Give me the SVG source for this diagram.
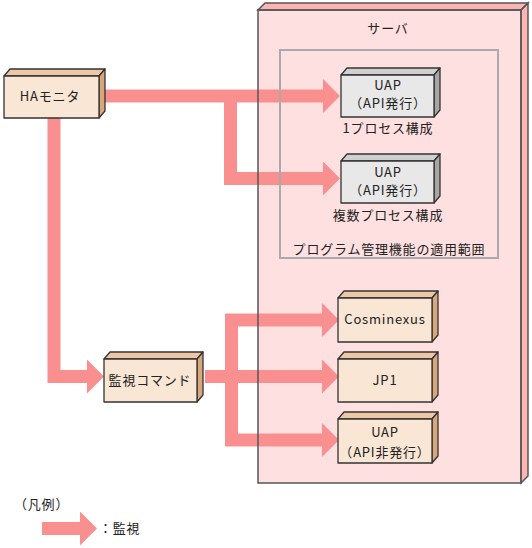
<svg xmlns="http://www.w3.org/2000/svg" width="532" height="548" viewBox="0 0 532 548">
<style>
text{font-family:"Noto Sans CJK JP","Liberation Sans",sans-serif;font-size:13px;fill:#222;text-anchor:middle;letter-spacing:0.8px}
.tan .f{fill:#F9E6D5}.tan .t{fill:#EEC8A6}.tan .s{fill:#D8A77B}
.gry .f{fill:#E8E8E8}.gry .t{fill:#D0D0D0}.gry .s{fill:#A6A6A6}
.box rect,.box polygon{stroke:#333;stroke-width:1.3;stroke-linejoin:round}
.conn path{fill:none;stroke:#F98F8F;stroke-width:13;stroke-linejoin:miter;marker-end:url(#ah)}
</style>
<defs>
<marker id="ah" viewBox="0 0 17 34" refX="0" refY="17" markerWidth="17" markerHeight="34" markerUnits="userSpaceOnUse" orient="auto">
<polygon points="0,0 17,17 0,34" fill="#F98F8F"/>
</marker>
</defs>
<rect width="532" height="548" fill="#fff"/>

<g id="server-bg">
<polygon points="258,10 265,3 528,3 521,10" fill="#FFB4B4"/>
<polygon points="521,10 528,3 528,476 521,483" fill="#FFB4B4"/>
<rect x="258" y="10" width="263" height="473" fill="#FFE0E0"/>
</g>

<g id="connectors" class="conn">
<path d="M100,96 H323"/>
<path d="M230.5,96 V178.5 H323"/>
<path d="M54,118 V376.5 H87"/>
<path d="M205,376.5 H231.5 V320 H322"/>
<path d="M205,376.5 H322"/>
<path d="M231.5,376.5 V440 H322"/>
</g>

<g id="server" fill="none">
<polygon points="258,10 265,3 528,3 521,10" stroke="#555" stroke-width="1.5"/>
<polygon points="521,10 528,3 528,476 521,483" stroke="#555" stroke-width="1.5"/>
<rect x="258" y="10" width="263" height="473" stroke="#555" stroke-width="1.5"/>
<text x="388" y="33">サーバ</text>
</g>

<g id="scope">
<rect x="280" y="50" width="218" height="208" fill="none" stroke="#AAAAAA" stroke-width="2"/>
<text x="389" y="254">プログラム管理機能の適用範囲</text>
</g>

<g id="ha-monitor" class="box tan">
<polygon class="t" points="4,76 10,69 105,69 99,76"/>
<polygon class="s" points="99,76 105,69 105,111 99,118"/>
<rect class="f" x="4" y="76" width="95" height="42"/>
<text x="50" y="101">HAモニタ</text>
</g>

<g id="uap1" class="box gry">
<polygon class="t" points="341,75 347,68 440,68 434,75"/>
<polygon class="s" points="434,75 440,68 440,110 434,117"/>
<rect class="f" x="341" y="75" width="93" height="42"/>
<text x="388" y="90">UAP</text>
<text x="388" y="108">（API発行）</text>
<text x="388" y="133">1プロセス構成</text>
</g>

<g id="uap2" class="box gry">
<polygon class="t" points="341,161 347,154 440,154 434,161"/>
<polygon class="s" points="434,161 440,154 440,196 434,203"/>
<rect class="f" x="341" y="161" width="93" height="42"/>
<text x="388" y="177">UAP</text>
<text x="388" y="195">（API発行）</text>
<text x="388" y="220">複数プロセス構成</text>
</g>

<g id="kanshi-command" class="box tan">
<polygon class="t" points="104,359 110,352 203,352 197,359"/>
<polygon class="s" points="197,359 203,352 203,395 197,402"/>
<rect class="f" x="104" y="359" width="93" height="43"/>
<text x="150" y="385">監視コマンド</text>
</g>

<g id="cosminexus" class="box tan">
<polygon class="t" points="338,298 344,291 438,291 432,298"/>
<polygon class="s" points="432,298 438,291 438,335 432,342"/>
<rect class="f" x="338" y="298" width="94" height="44"/>
<text x="385" y="324">Cosminexus</text>
</g>

<g id="jp1" class="box tan">
<polygon class="t" points="338,359 344,352 438,352 432,359"/>
<polygon class="s" points="432,359 438,352 438,395 432,402"/>
<rect class="f" x="338" y="359" width="94" height="43"/>
<text x="385" y="385">JP1</text>
</g>

<g id="uap3" class="box tan">
<polygon class="t" points="338,419 344,412 438,412 432,419"/>
<polygon class="s" points="432,419 438,412 438,456 432,463"/>
<rect class="f" x="338" y="419" width="94" height="44"/>
<text x="385" y="437">UAP</text>
<text x="385" y="457">（API非発行）</text>
</g>

<g id="legend">
<text x="14" y="509" style="text-anchor:start">（凡例）</text>
<g class="conn"><path d="M42,528.5 H80"/></g>
<text x="99" y="533" style="text-anchor:start">：監視</text>
</g>
</svg>
